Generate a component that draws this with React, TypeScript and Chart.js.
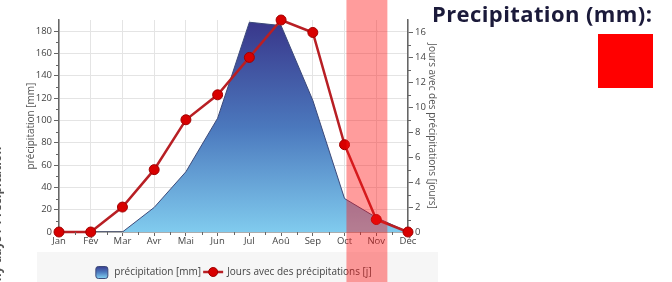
import React, { useEffect, useRef } from "react";
import { Chart, registerables } from "chart.js";

Chart.register(...registerables);

// ---- data ----
const months = ["Jan", "Fév", "Mar", "Avr", "Mai", "Jun", "Jul", "Aoû", "Sep", "Oct", "Nov", "Déc"];
const precipitation = [0, 0, 0, 22, 54, 102, 188, 185, 118, 30, 13, 0];
const rainyDays = [0, 0, 2, 5, 9, 11, 14, 17, 16, 7, 1, 0];
const precipAxisMax = 190;
const precipStep = 20;
const daysAxisMax = 17;
const daysStep = 2;
const precipLabel = "précipitation [mm]";
const daysLabel = "Jours avec des précipitations [j]";
const rightAxisTitle = "Jours avec des précipitations [jours]";
const sideTitle = "Precipitation (mm):";
const edgeText = "Rainy days / Precipitation";
// highlighted month span (category index units)
const highlightFrom = 9.06;
const highlightTo = 10.35;

const FONT = "'Open Sans', 'DejaVu Sans', sans-serif";

function areaGradient(ctx: CanvasRenderingContext2D, top: number, bottom: number) {
  const g = ctx.createLinearGradient(0, top, 0, bottom);
  g.addColorStop(0, "#39378b");
  g.addColorStop(0.5, "#4b78bd");
  g.addColorStop(1, "#80cbee");
  return g;
}

export default function App() {
  const ref = useRef<HTMLCanvasElement>(null);

  useEffect(() => {
    const canvas = ref.current!;

    const decor = {
      id: "decor",
      beforeDraw(chart: any) {
        const { ctx, chartArea } = chart;
        ctx.save();
        ctx.fillStyle = "#f6f6f6";
        ctx.fillRect(chartArea.left - 22, chartArea.bottom + 20, chartArea.right - chartArea.left + 52, 40);
        ctx.restore();
      },
      afterDraw(chart: any) {
        const { ctx, chartArea, scales } = chart;
        const x = scales.x;
        const y = scales.y;
        const y1 = scales.y1;
        ctx.save();
        // minor ticks
        ctx.strokeStyle = "#666";
        ctx.lineWidth = 1;
        ctx.beginPath();
        for (let v = precipStep / 2; v < precipAxisMax; v += precipStep) {
          const py = Math.round(y.getPixelForValue(v)) + 0.5;
          ctx.moveTo(chartArea.left - 3, py);
          ctx.lineTo(chartArea.left, py);
        }
        for (let v = daysStep / 2; v < daysAxisMax; v += daysStep) {
          const py = Math.round(y1.getPixelForValue(v)) + 0.5;
          ctx.moveTo(chartArea.right, py);
          ctx.lineTo(chartArea.right + 3, py);
        }
        for (let i = 0; i < months.length - 1; i++) {
          const px = Math.round((x.getPixelForValue(i) + x.getPixelForValue(i + 1)) / 2) + 0.5;
          ctx.moveTo(px, chartArea.bottom);
          ctx.lineTo(px, chartArea.bottom + 3);
        }
        ctx.stroke();

        // legend
        ctx.font = `10px ${FONT}`;
        ctx.textBaseline = "middle";
        const w1 = ctx.measureText(precipLabel).width;
        const w2 = ctx.measureText(daysLabel).width;
        const box = 12;
        const total = box + 7 + w1 + 2 + 20 + 4 + w2;
        let lx = (chartArea.left + chartArea.right) / 2 - total / 2;
        const ly = chartArea.bottom + 40;
        ctx.fillStyle = areaGradient(ctx, ly - box / 2, ly + box / 2);
        ctx.strokeStyle = "#3c4a7a";
        ctx.beginPath();
        (ctx as any).roundRect(lx + 0.5, ly - box / 2 + 0.5, box, box, 2.5);
        ctx.fill();
        ctx.stroke();
        lx += box + 7;
        ctx.fillStyle = "#444";
        ctx.fillText(precipLabel, lx, ly);
        lx += w1 + 2;
        ctx.strokeStyle = "#b81f24";
        ctx.lineWidth = 2.5;
        ctx.beginPath();
        ctx.moveTo(lx, ly);
        ctx.lineTo(lx + 20, ly);
        ctx.stroke();
        ctx.fillStyle = "#d80000";
        ctx.strokeStyle = "#a00000";
        ctx.lineWidth = 1;
        ctx.beginPath();
        ctx.arc(lx + 10, ly, 4.5, 0, Math.PI * 2);
        ctx.fill();
        ctx.stroke();
        lx += 24;
        ctx.fillStyle = "#444";
        ctx.fillText(daysLabel, lx, ly);

        // highlighted band
        const step = x.getPixelForValue(1) - x.getPixelForValue(0);
        const bx0 = x.getPixelForValue(0) + highlightFrom * step;
        const bx1 = x.getPixelForValue(0) + highlightTo * step;
        ctx.fillStyle = "rgba(255, 20, 20, 0.42)";
        ctx.fillRect(bx0, 0, bx1 - bx0, chart.height);
        ctx.restore();
      },
    };

    const chart = new Chart(canvas, {
      type: "line",
      data: {
        labels: months,
        datasets: [
          {
            label: daysLabel,
            data: rainyDays,
            yAxisID: "y1",
            order: 1,
            borderColor: "#b81f24",
            borderWidth: 2.5,
            pointRadius: 5,
            pointBackgroundColor: "#d80000",
            pointBorderColor: "#a00000",
            pointBorderWidth: 1,
            tension: 0,
            fill: false,
            clip: false as any,
          },
          {
            label: precipLabel,
            data: precipitation,
            yAxisID: "y",
            order: 2,
            borderColor: "#3c4a7a",
            borderWidth: 1,
            pointRadius: 0,
            tension: 0,
            fill: "origin",
            backgroundColor: (c: any) => {
              const ch = c.chart;
              if (!ch.chartArea) return "#4b78bd";
              const ys = ch.scales.y;
              return areaGradient(ch.ctx, ys.getPixelForValue(Math.max(...precipitation)), ys.getPixelForValue(0));
            },
          },
        ],
      },
      options: {
        responsive: false,
        animation: false,
        devicePixelRatio: 1,
        layout: { padding: { left: 0, right: 232, top: 20, bottom: 34 } },
        plugins: { legend: { display: false }, tooltip: { enabled: false } },
        scales: {
          x: {
            type: "category",
            offset: false,
            afterFit: (s: any) => {
              s.height = 16;
            },
            grid: { color: "#e4e4e4", tickColor: "#666", tickLength: 4 },
            border: { color: "#777", width: 1.5 },
            ticks: { color: "#444", font: { family: FONT, size: 9.5 }, padding: 0, maxRotation: 0, autoSkip: false },
          },
          y: {
            position: "left",
            min: 0,
            max: precipAxisMax,
            afterFit: (s: any) => {
              s.width = 59;
            },
            grid: { color: "#e4e4e4", tickColor: "#666", tickLength: 5 },
            border: { color: "#666", width: 1.5 },
            ticks: {
              stepSize: precipStep,
              includeBounds: false,
              color: "#444",
              padding: 2,
              font: { family: FONT, size: 9.5 },
            },
            title: {
              display: true,
              text: precipLabel,
              color: "#555",
              font: { family: FONT, size: 10 },
              padding: { top: 25, bottom: 0 },
            },
          },
          y1: {
            position: "right",
            min: 0,
            max: daysAxisMax,
            afterFit: (s: any) => {
              s.width = 32;
            },
            grid: { drawOnChartArea: false, tickColor: "#666", tickLength: 5 },
            border: { color: "#666", width: 1.5 },
            ticks: {
              stepSize: daysStep,
              includeBounds: false,
              color: "#444",
              padding: 2,
              font: { family: FONT, size: 9.5 },
            },
            title: {
              display: true,
              text: rightAxisTitle,
              color: "#555",
              font: { family: FONT, size: 10 },
              padding: { top: 2, bottom: 0 },
            },
          },
        },
      },
      plugins: [decor],
    } as any);

    return () => chart.destroy();
  }, []);

  return (
    <div
      style={{
        position: "fixed",
        left: 0,
        top: 0,
        width: 672,
        height: 282,
        overflow: "hidden",
        background: "#fff",
      }}
    >
      <canvas ref={ref} width={672} height={282} style={{ position: "absolute", left: 0, top: 0, width: 672, height: 282 }} />
      <div
        style={{
          position: "absolute",
          left: 432,
          top: 0,
          font: `bold 22px ${FONT}`,
          letterSpacing: "0.4px",
          color: "#1b1a3a",
          whiteSpace: "nowrap",
          lineHeight: "26px",
        }}
      >
        {sideTitle}
      </div>
      <div style={{ position: "absolute", left: 598, top: 34, width: 55, height: 54, background: "#ff0000" }} />
      <div
        style={{
          position: "absolute",
          left: 0,
          top: 0,
          transformOrigin: "0 0",
          transform: "translate(-10px, 300px) rotate(-90deg)",
          font: `bold 12px ${FONT}`,
          color: "#555",
          whiteSpace: "nowrap",
          lineHeight: "14px",
        }}
      >
        {edgeText}
      </div>
    </div>
  );
}
